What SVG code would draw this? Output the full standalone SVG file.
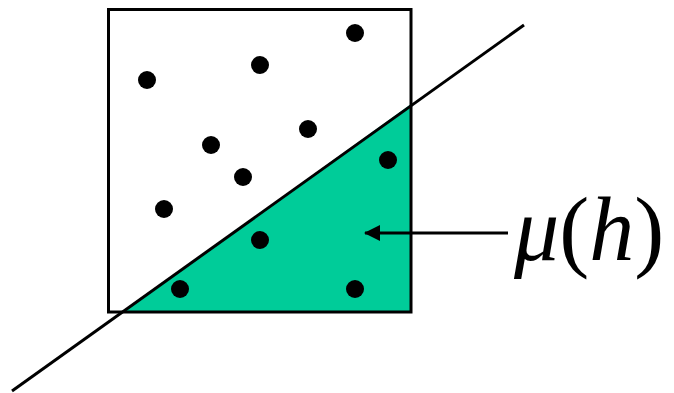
<svg xmlns="http://www.w3.org/2000/svg" width="674" height="393" viewBox="0 0 674 393">
<defs>
<style>
.dot{fill:#000}
.ln{stroke:#000;stroke-width:3;fill:none}
.it{font-style:italic}
</style>
<marker id="ah" markerWidth="16" markerHeight="16" refX="15" refY="8" orient="auto" markerUnits="userSpaceOnUse">
<path d="M0,0 L16,8 L0,16 Z" fill="#000"/>
</marker>
</defs>
<rect width="674" height="393" fill="#fff"/>
<g id="region">
<polygon points="123,312 411,312 411,104" fill="#00CC99"/>
<rect x="108.5" y="9.5" width="302.5" height="302.5" class="ln"/>
</g>
<g id="line">
<line x1="12" y1="391" x2="524" y2="25" class="ln" stroke-width="2"/>
</g>
<g id="dots">
<circle class="dot" cx="355" cy="33" r="9"/>
<circle class="dot" cx="147" cy="80" r="9"/>
<circle class="dot" cx="260" cy="65" r="9"/>
<circle class="dot" cx="308" cy="129" r="9"/>
<circle class="dot" cx="211" cy="145" r="9"/>
<circle class="dot" cx="388" cy="160" r="9"/>
<circle class="dot" cx="243" cy="177" r="9"/>
<circle class="dot" cx="164" cy="209" r="9"/>
<circle class="dot" cx="260" cy="240" r="9"/>
<circle class="dot" cx="180" cy="289" r="9"/>
<circle class="dot" cx="355" cy="289" r="9"/>
</g>
<g id="connectors">
<line x1="508" y1="233" x2="365" y2="233" class="ln" marker-end="url(#ah)"/>
</g>
<g id="label">
<text x="514" y="260" font-family="Liberation Serif, serif" font-size="90"><tspan class="it">μ</tspan>(<tspan class="it">h</tspan>)</text>
</g>
</svg>
